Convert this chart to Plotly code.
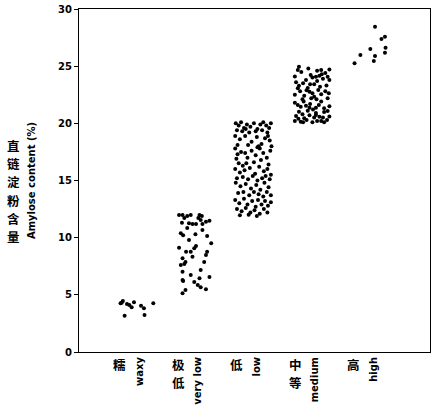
import plotly.graph_objects as go

# ---- categories / labels ----
categories_cn = ["糯", "极低", "低", "中等", "高"]
categories_en = ["waxy", "very low", "low", "medium", "high"]
y_title_cn = "直链淀粉含量"
y_title_en = "Amylose content (%)"
y_ticks = [0, 5, 10, 15, 20, 25, 30]

# ---- data: jitter offset (category units) and amylose content (%) ----
waxy_off = [-0.26, -0.22, -0.15, -0.24, -0.07, -0.03, -0.19, 0.09, 0.14, 0.15, 0.30, -0.11]
waxy_val = [4.26, 4.46, 4.20, 4.31, 3.91, 4.35, 3.18, 4.05, 3.82, 3.24, 4.26, 4.11]

verylow_off = [-0.26, -0.20, -0.12, -0.06, 0.09, 0.13, -0.21, -0.09, -0.03, 0.03,
               0.11, 0.20, 0.26, 0.14, -0.23, -0.19, 0.02, 0.29, 0.03, 0.00,
               -0.26, -0.14, -0.06, 0.22, 0.20, -0.20, -0.03, -0.23, -0.17, 0.11,
               -0.20, -0.06, 0.09, -0.20, 0.06, 0.11, 0.20, -0.20, -0.19, -0.15,
               -0.12, 0.14, 0.22, -0.09, -0.15, 0.17, 0.26, 0.00, 0.07, -0.17]
verylow_val = [11.98, 11.98, 11.90, 11.98, 11.98, 11.90, 11.31, 11.26, 11.20, 11.20,
               11.55, 11.40, 11.48, 11.20, 10.38, 10.21, 10.29, 9.51, 9.27, 9.07,
               9.12, 8.77, 8.77, 8.77, 8.48, 8.20, 8.34, 7.61, 7.70, 7.17,
               7.02, 6.73, 6.45, 6.30, 5.86, 5.66, 5.48, 5.13, 6.21, 5.42,
               10.85, 10.67, 10.15, 9.80, 7.87, 7.87, 6.56, 6.12, 11.72, 11.72]

low_off = [-0.29, -0.24, -0.20, -0.15, -0.10, -0.04, 0.02, 0.08, 0.13, 0.18,
           0.23, 0.28, 0.31, -0.27, -0.18, -0.06, 0.05, 0.16, 0.25, -0.12,
           -0.30, -0.22, -0.13, -0.02, 0.07, 0.15, 0.21, 0.29, 0.32, -0.26,
           -0.08, 0.10, 0.26,
           -0.28, -0.26, -0.20, -0.13, -0.09, -0.11, -0.17, -0.24,
           -0.02, 0.05, 0.12, 0.18, 0.24, 0.30, 0.02, 0.14, 0.27, -0.30, 0.08,
           -0.30, -0.22, -0.14, -0.05, 0.04, 0.11, 0.19, 0.25, 0.31, -0.27,
           -0.17, -0.08, 0.00, 0.08, 0.16, 0.22, 0.29,
           -0.29, -0.21, -0.12, -0.03, 0.06, 0.13, 0.20, 0.27, -0.25, -0.16,
           -0.06, 0.02, 0.10, 0.18, 0.24, 0.31,
           -0.30, -0.23, -0.15, -0.09, -0.01, 0.05, 0.09, 0.15, 0.21, 0.26,
           0.31, -0.27, -0.19, -0.12, -0.04, 0.03, 0.12, 0.19, 0.25, -0.07,
           0.07, -0.22]
low_val = [20.0, 19.8, 20.1, 19.6, 19.9, 19.7, 20.0, 19.5, 19.9, 20.1,
           19.8, 19.6, 20.0, 19.4, 19.3, 19.2, 19.3, 19.4, 19.2, 19.5,
           18.9, 18.6, 18.9, 18.4, 18.8, 18.2, 18.7, 18.5, 18.0, 18.1,
           18.1, 18.0, 18.9,
           16.9, 17.3, 17.5, 17.4, 17.0, 16.5, 16.3, 16.5,
           17.6, 17.2, 17.8, 17.4, 17.0, 17.6, 16.6, 16.8, 16.4, 17.8, 17.9,
           16.0, 15.7, 15.9, 16.1, 15.6, 16.2, 15.8, 16.0, 15.5, 15.2,
           15.3, 15.1, 15.4, 15.0, 15.2, 15.4, 15.1,
           14.8, 14.5, 14.7, 14.3, 14.6, 14.2, 14.8, 14.4, 13.9, 14.0,
           13.7, 14.0, 13.8, 13.6, 14.0, 13.7,
           13.3, 13.0, 13.4, 12.9, 13.2, 12.7, 13.3, 12.9, 13.2, 12.8,
           13.1, 12.5, 12.3, 12.6, 12.2, 12.4, 12.1, 12.5, 12.2, 12.0,
           11.9, 11.95]

medium_off = [-0.21, -0.23, 0.17, -0.01, 0.08, 0.14, 0.18, 0.28, -0.09, -0.02,
              0.05, -0.21, -0.23, 0.12, -0.03, 0.02, -0.12, 0.05, 0.30, 0.17,
              -0.23, -0.18, -0.09, -0.03, 0.08, 0.22, 0.28, -0.21, -0.15, -0.26,
              0.08, -0.12, -0.18, 0.02, 0.17, 0.22, 0.14,
              -0.17, -0.05, 0.10, 0.24, 0.31, -0.28, 0.02,
              -0.26, -0.14, 0.10, 0.20, 0.26, 0.31, -0.06, 0.15,
              -0.28, -0.19, -0.08, 0.09, 0.24, -0.15, 0.28, 0.00,
              -0.28, -0.13, -0.02, 0.03, 0.13, 0.17, 0.31, -0.06, 0.22,
              -0.22, -0.08, -0.03, 0.05, 0.10, 0.20, 0.27, 0.31, -0.28, -0.14, 0.08]
medium_val = [24.95, 24.67, 24.67, 24.23, 24.08, 24.17, 24.29, 24.08, 23.79, 23.41,
              23.41, 23.29, 23.06, 22.92, 22.77, 22.63, 22.42, 22.33, 22.63, 22.54,
              21.60, 21.46, 21.54, 21.37, 21.37, 21.32, 21.08, 21.02, 20.79, 20.64,
              20.73, 20.44, 20.14, 20.09, 20.20, 20.09, 20.58,
              24.5, 24.8, 24.6, 24.4, 24.7, 24.1, 24.0,
              23.6, 23.5, 23.7, 23.9, 23.3, 23.8, 23.1, 23.2,
              22.5, 22.8, 22.9, 22.1, 22.8, 22.1, 22.2, 22.2,
              21.8, 21.9, 21.7, 21.2, 21.6, 21.9, 21.5, 21.1, 21.0,
              20.4, 20.3, 20.7, 20.5, 20.2, 20.5, 20.3, 20.6, 20.2, 20.1, 20.9]

high_off = [0.09, 0.20, 0.26, 0.01, 0.27, 0.26, -0.16, 0.09, 0.07, -0.26]
high_val = [28.45, 27.38, 27.58, 26.50, 26.62, 26.18, 25.98, 25.89, 25.45, 25.25]

groups = [(waxy_off, waxy_val), (verylow_off, verylow_val), (low_off, low_val),
          (medium_off, medium_val), (high_off, high_val)]

xs, ys = [], []
for i, (offs, vals) in enumerate(groups):
    xs += [i + o for o in offs]
    ys += vals

fig = go.Figure()
fig.add_trace(go.Scatter(
    x=xs, y=ys, mode="markers",
    marker=dict(symbol="circle", size=4, color="black", line=dict(width=0)),
    showlegend=False, hoverinfo="skip"))

FIG_W, FIG_H = 433, 414
LEFT, TOP, W, H = 79, 9, 351, 343
en_font = dict(family="DejaVu Sans", size=10, color="black", weight="bold")
cn_font = dict(family="Noto Sans CJK SC", size=12.5, color="black", weight="bold")
CN_STEP = 18.2  # vertical spacing of stacked CJK characters (px)

fig.update_layout(
    width=FIG_W, height=FIG_H,
    margin=dict(l=LEFT, r=FIG_W - LEFT - W, t=TOP, b=FIG_H - TOP - H, pad=0),
    paper_bgcolor="white", plot_bgcolor="white",
    xaxis=dict(range=[-0.97, 5.03], tickmode="array",
               tickvals=[i + 0.06 for i in range(len(categories_en))],
               ticktext=categories_en, tickangle=-90, ticks="",
               tickfont=en_font, automargin=False,
               showgrid=False, zeroline=False, showline=True, linecolor="black",
               linewidth=1, mirror=True, fixedrange=True),
    yaxis=dict(range=[0, 30], tickvals=y_ticks, ticks="outside", ticklen=4,
               tickwidth=1, tickcolor="black", showgrid=False, zeroline=False,
               showline=True, linecolor="black", linewidth=1, mirror=True,
               automargin=False, tickfont=en_font,
               title=dict(text=y_title_en, font=en_font, standoff=20)),
)

ann = []
for i, cn in enumerate(categories_cn):
    for k, ch in enumerate(cn):
        ann.append(dict(x=i - 0.27, y=0, xref="x", yref="paper", text=ch,
                        showarrow=False, xanchor="center", yanchor="top",
                        yshift=-2 - CN_STEP * k, font=cn_font, borderpad=0))

# Chinese part of the y-axis title, stacked upright
n = len(y_title_cn)
for k, ch in enumerate(y_title_cn):
    ypx = 191 + (k - (n - 1) / 2) * CN_STEP
    ann.append(dict(x=0, y=(TOP + H - ypx) / H, xref="paper", yref="paper",
                    text=ch, showarrow=False, xanchor="center", yanchor="middle",
                    xshift=-(LEFT - 13), font=cn_font, borderpad=0))

fig.update_layout(annotations=ann)
fig.write_html("out.html",
               config={"displayModeBar": False},
               post_script="document.body.style.margin='0';document.body.style.overflow='hidden';")
